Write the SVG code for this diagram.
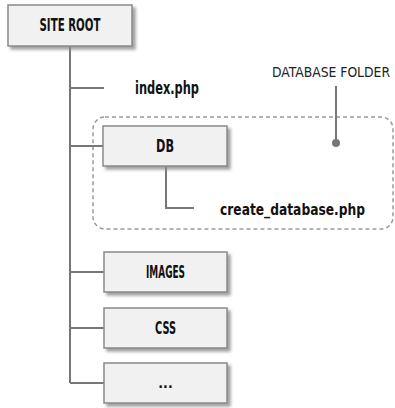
<svg xmlns="http://www.w3.org/2000/svg" width="395" height="408" viewBox="0 0 395 408">
  <defs>
    <filter id="sh" x="-10%" y="-10%" width="130%" height="140%">
      <feDropShadow dx="3" dy="3" stdDeviation="1.5" flood-color="#8a8a8a" flood-opacity="0.8"/>
    </filter>
  </defs>
  <style>
    .box { fill: #f1f1f1; stroke: #8a8a8a; stroke-width: 1.5; filter: url(#sh); }
    .ln { fill: none; stroke: #777; stroke-width: 2; }
    .lbl { font-family: "DejaVu Sans Condensed", "DejaVu Sans", sans-serif; font-stretch: condensed; font-weight: bold; font-size: 17px; fill: #111; }
    .note { font-family: "DejaVu Sans Condensed", "DejaVu Sans", sans-serif; font-stretch: condensed; font-size: 14.5px; fill: #222; }
    .dash { fill: none; stroke: #9a9a9a; stroke-width: 1.5; stroke-dasharray: 4 3; }
  </style>
  <rect class="dash" x="93" y="117" width="300" height="112" rx="12"/>
  <g id="connectors">
    <path class="ln" d="M70 46 V383"/>
    <path class="ln" d="M70 88 H104"/>
    <path class="ln" d="M70 146 H103"/>
    <path class="ln" d="M70 272 H104"/>
    <path class="ln" d="M70 328 H104"/>
    <path class="ln" d="M70 383 H104"/>
    <path class="ln" d="M166 166 V208 H194"/>
    <path class="ln" d="M336 86 V143"/>
    <circle cx="336" cy="143" r="4" fill="#777"/>
  </g>
  <g id="site-root">
    <rect class="box" x="8" y="5" width="124" height="41"/>
    <text class="lbl" x="70" y="31" text-anchor="middle" textLength="61" lengthAdjust="spacingAndGlyphs">SITE ROOT</text>
  </g>
  <g id="index-php">
    <text class="lbl" x="135" y="94" textLength="64" lengthAdjust="spacingAndGlyphs">index.php</text>
  </g>
  <g id="database-folder">
    <text class="note" x="272" y="77" textLength="118" lengthAdjust="spacingAndGlyphs">DATABASE FOLDER</text>
  </g>
  <g id="db">
    <rect class="box" x="103" y="126" width="124" height="40"/>
    <text class="lbl" x="165" y="152" text-anchor="middle" textLength="18" lengthAdjust="spacingAndGlyphs">DB</text>
  </g>
  <g id="create-database-php">
    <text class="lbl" style="font-size:15px" x="220" y="215" textLength="145" lengthAdjust="spacingAndGlyphs">create_database.php</text>
  </g>
  <g id="images">
    <rect class="box" x="104" y="252" width="123" height="40"/>
    <text class="lbl" x="165.5" y="278" text-anchor="middle" textLength="39" lengthAdjust="spacingAndGlyphs">IMAGES</text>
  </g>
  <g id="css">
    <rect class="box" x="104" y="308" width="123" height="40"/>
    <text class="lbl" x="165.5" y="334" text-anchor="middle" textLength="21" lengthAdjust="spacingAndGlyphs">CSS</text>
  </g>
  <g id="more">
    <rect class="box" x="104" y="363" width="123" height="40"/>
    <text class="lbl" style="font-size:14px" x="165.5" y="388" text-anchor="middle">...</text>
  </g>
</svg>
